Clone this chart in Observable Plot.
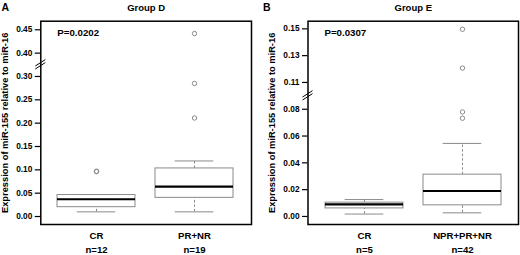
<!DOCTYPE html>
<html>
<head>
<meta charset="utf-8">
<script src="https://cdn.jsdelivr.net/npm/d3@7"></script>
<script src="https://cdn.jsdelivr.net/npm/@observablehq/plot@0.6"></script>
<style>
  body { margin: 0; background: white; }
  #wrap { display: flex; width: 520px; height: 255px; }
</style>
</head>
<body>
<div id="wrap"></div>
<script>
// ---------- Panel A: Group D ----------
const catsA = ["CR", "PR+NR"];
const nA = ["n=12", "n=19"];
const q1A = [0.020, 0.040];
const medA = [0.037, 0.064];
const q3A = [0.046, 0.103];
const loA = [0.010, 0.010];
const hiA = [0.047, 0.119];
const outCatA = ["CR", "CR", "PR+NR", "PR+NR", "PR+NR"];
const outValA = [0.096, 0.097, 0.211, 0.285, 0.442];
const ticksA = [0, 0.05, 0.10, 0.15, 0.20, 0.25, 0.30, 0.40, 0.45];
const tickLabelsA = ["0.00", "0.05", "0.10", "0.15", "0.20", "0.25", "0.30", "0.40", "0.45"];
const pA = "P=0.0202";

// ---------- Panel B: Group E ----------
const catsB = ["CR", "NPR+PR+NR"];
const nB = ["n=5", "n=42"];
const q1B = [0.0060, 0.0083];
const medB = [0.0090, 0.0190];
const q3B = [0.0103, 0.0312];
const loB = [0.0018, 0.0027];
const hiB = [0.0126, 0.0545];
const outCatB = ["NPR+PR+NR", "NPR+PR+NR", "NPR+PR+NR", "NPR+PR+NR"];
const outValB = [0.0733, 0.0780, 0.1207, 0.1497];
const ticksB = [0, 0.02, 0.04, 0.06, 0.08, 0.11, 0.13, 0.15];
const tickLabelsB = ["0.00", "0.02", "0.04", "0.06", "0.08", "0.11", "0.13", "0.15"];
const pB = "P=0.0307";

const yTitle = "Expression of miR-155 relative to miR-16";
const FONT = "Liberation Sans, Arial, Helvetica, sans-serif";

function panel(o) {
  // broken axis: values above the break are shifted down
  const brk = v => (v > o.brkLow ? v - o.brkShift : v);
  const rows = o.cats.map((c, i) => ({
    cat: c, n: o.n[i],
    q1: brk(o.q1[i]), med: brk(o.med[i]), q3: brk(o.q3[i]),
    lo: brk(o.lo[i]), hi: brk(o.hi[i])
  }));
  const outs = o.outCat.map((c, i) => ({cat: c, v: brk(o.outVal[i])}));
  const tickPos = o.ticks.map(brk);
  const labelMap = new Map(tickPos.map((t, i) => [t, o.tickLabels[i]]));
  const above = o.ticks.find(t => t > o.brkLow);
  const brkMid = (brk(o.brkLow) + brk(above)) / 2;
  const frameTop = o.marginTop;

  const breakMark = (index, scales, values, dims) => {
    const g = d3.create("svg:g");
    const x0 = dims.marginLeft;
    const yc = scales.y(brkMid);
    for (const off of [-1.5, 1.5]) {
      g.append("line")
        .attr("x1", x0 - 5).attr("y1", yc + off + 3.2)
        .attr("x2", x0 + 5).attr("y2", yc + off - 3.2)
        .attr("stroke", "black").attr("stroke-width", 1);
    }
    return g.node();
  };

  return Plot.plot({
    width: 260,
    height: 255,
    marginLeft: o.marginLeft,
    marginRight: o.marginRight,
    marginTop: o.marginTop,
    marginBottom: 31,
    style: {fontFamily: FONT, fontWeight: "bold", background: "white", overflow: "visible"},
    x: {type: "band", domain: o.cats, paddingInner: 0.2, paddingOuter: 0.17, axis: null},
    y: {domain: o.yDomain, axis: null},
    marks: [
      // whiskers
      Plot.ruleX(rows, {x: "cat", y1: "lo", y2: "q1", stroke: "#8a8a8a", strokeWidth: 1, strokeDasharray: "2.5,2"}),
      Plot.ruleX(rows, {x: "cat", y1: "q3", y2: "hi", stroke: "#8a8a8a", strokeWidth: 1, strokeDasharray: "2.5,2"}),
      Plot.tickY(rows, {x: "cat", y: "lo", stroke: "#8a8a8a", strokeWidth: 1, inset: 19.7}),
      Plot.tickY(rows, {x: "cat", y: "hi", stroke: "#8a8a8a", strokeWidth: 1, inset: 19.7}),
      // boxes
      Plot.barY(rows, {x: "cat", y1: "q1", y2: "q3", fill: "white", stroke: "#8a8a8a", strokeWidth: 1}),
      Plot.tickY(rows, {x: "cat", y: "med", stroke: "black", strokeWidth: 2.2}),
      // outliers
      Plot.dot(outs, {x: "cat", y: "v", r: 2.2, stroke: "#8a8a8a", fill: "none", strokeWidth: 1}),
      // axis
      Plot.axisY({ticks: tickPos, tickFormat: d => labelMap.get(d), tickSize: 5.5, tickPadding: 3,
                  fontSize: 8.3, fontWeight: "bold", strokeWidth: 1.2, label: null}),
      Plot.frame({stroke: "black", strokeWidth: 1.5}),
      breakMark,
      // category labels
      Plot.text(rows, {x: "cat", text: "cat", frameAnchor: "bottom", lineAnchor: "bottom", dy: 14, fontSize: 9.6, fontWeight: "bold", fill: "black"}),
      Plot.text(rows, {x: "cat", text: "n", frameAnchor: "bottom", lineAnchor: "bottom", dy: 28.5, fontSize: 9.6, fontWeight: "bold", fill: "black"}),
      // texts
      Plot.text([o.pval], {text: d => d, frameAnchor: "top-left", textAnchor: "start", lineAnchor: "bottom", dx: 16.5, dy: 14.7, fontSize: 9.7, fontWeight: "bold", fill: "black"}),
      Plot.text([o.title], {text: d => d, frameAnchor: "top", textAnchor: "middle", lineAnchor: "bottom", dy: 10 - frameTop, fontSize: 9.5, fontWeight: "bold", fill: "black"}),
      Plot.text([o.letter], {text: d => d, frameAnchor: "top-left", textAnchor: "start", lineAnchor: "bottom", dx: o.letterX - o.marginLeft, dy: 10.8 - frameTop, fontSize: 10.5, fontWeight: "bold", fill: "black"}),
      Plot.text([yTitle], {text: d => d, frameAnchor: "left", textAnchor: "middle", lineAnchor: "middle", rotate: -90, dx: -36, fontSize: 9.3, fontWeight: "bold", fill: "black"})
    ]
  });
}

const wrap = document.getElementById("wrap");
wrap.append(panel({
  cats: catsA, n: nA, q1: q1A, med: medA, q3: q3A, lo: loA, hi: hiA,
  outCat: outCatA, outVal: outValA, ticks: ticksA, tickLabels: tickLabelsA,
  brkLow: 0.30, brkShift: 0.05, yDomain: [-0.0171, 0.4184],
  pval: pA, title: "Group D", letter: "A", letterX: 1,
  marginLeft: 40.3, marginRight: 9, marginTop: 20.7
}));
wrap.append(panel({
  cats: catsB, n: nB, q1: q1B, med: medB, q3: q3B, lo: loB, hi: hiB,
  outCat: outCatB, outVal: outValB, ticks: ticksB, tickLabels: tickLabelsB,
  brkLow: 0.08, brkShift: 0.01, yDomain: [-0.0060, 0.1457],
  pval: pB, title: "Group E", letter: "B", letterX: 2.5,
  marginLeft: 47.5, marginRight: 2, marginTop: 20.7
}));
</script>
</body>
</html>
